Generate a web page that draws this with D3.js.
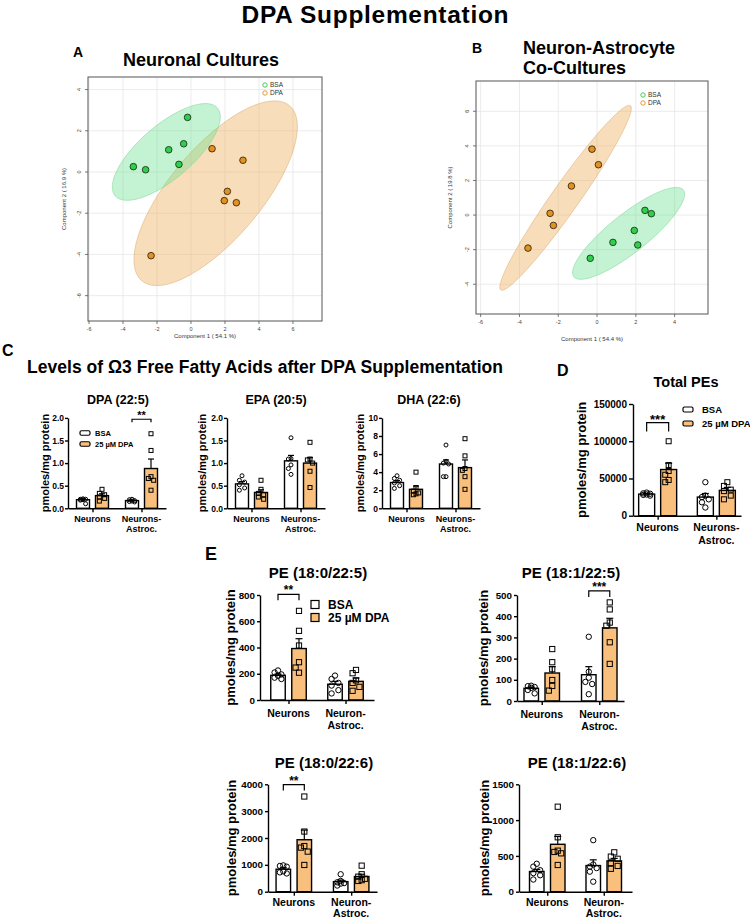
<!DOCTYPE html>
<html>
<head>
<meta charset="utf-8">
<script src="https://cdn.jsdelivr.net/npm/d3@7"></script>
<style>
  body { margin: 0; background: #fff; }
  svg { display: block; }
  text { font-family: "Liberation Sans", Arial, sans-serif; }
</style>
</head>
<body>
<div id="fig"></div>
<script>
// ---------- data ----------
// PCA scores [Component 1, Component 2]
var pcaA_bsa = [[-3.39, 0.26], [-2.67, 0.11], [-1.31, 1.08], [-0.43, 1.37], [-0.71, 0.37], [-0.20, 2.65]];
var pcaA_dpa = [[1.24, 1.13], [3.06, 0.57], [2.14, -0.94], [1.96, -1.39], [2.67, -1.49], [-2.35, -4.06]];
var pcaB_bsa = [[2.47, 0.27], [2.80, 0.08], [1.92, -0.89], [0.82, -1.58], [2.10, -1.73], [-0.35, -2.50]];
var pcaB_dpa = [[-0.26, 3.81], [0.07, 2.91], [-1.32, 1.68], [-2.42, 0.10], [-2.25, -0.60], [-3.56, -1.91]];
var pcaTicksA_x = [-6, -4, -2, 0, 2, 4, 6];
var pcaTicksA_y = [-6, -4, -2, 0, 2, 4];
var pcaTicksB_x = [-6, -4, -2, 0, 2, 4];
var pcaTicksB_y = [-4, -2, 0, 2, 4, 6];

var groupsC = ["Neurons", "Neurons-Astroc."];
var groupsE = ["Neurons", "Neuron-Astroc."];
var treatments = ["BSA", "25 µM DPA"];

// bar values: [group][treatment]  (treatment 0 = BSA, 1 = 25 µM DPA)
var dpaMean = [[0.19, 0.28], [0.17, 0.88]];
var dpaSem = [[0.02, 0.04], [0.01, 0.21]];
var dpaPts = [[[0.21, 0.20, 0.19, 0.18, 0.20, 0.10], [0.42, 0.33, 0.30, 0.25, 0.22, 0.16]],
              [[0.20, 0.19, 0.17, 0.16, 0.15, 0.14], [1.65, 1.28, 0.70, 0.66, 0.62, 0.40]]];
var dpaTicks = [0, 0.5, 1.0, 1.5, 2.0];

var epaMean = [[0.54, 0.35], [1.05, 1.00]];
var epaSem = [[0.05, 0.06], [0.12, 0.12]];
var epaPts = [[[0.72, 0.62, 0.58, 0.52, 0.45, 0.40], [0.62, 0.42, 0.33, 0.30, 0.25, 0.20]],
              [[1.56, 1.10, 1.09, 0.96, 0.88, 0.75], [1.46, 1.09, 1.07, 1.00, 0.82, 0.46]]];
var epaTicks = [0, 0.5, 1.0, 1.5, 2.0];

var dhaMean = [[2.85, 2.10], [4.90, 4.50]];
var dhaSem = [[0.22, 0.35], [0.45, 0.85]];
var dhaPts = [[[3.6, 3.3, 3.1, 2.8, 2.5, 2.2], [4.0, 2.3, 1.9, 1.7, 1.6, 1.5]],
              [[7.0, 5.2, 5.0, 4.9, 3.5, 3.5], [7.7, 5.8, 4.4, 4.2, 3.5, 2.1]]];
var dhaTicks = [0, 2, 4, 6, 8, 10];

var peTotMean = [[29000, 62000], [25000, 34000]];
var peTotSem = [[700, 8500], [4800, 4000]];
var peTotPts = [[[31000, 30000, 29500, 28500, 28000, 27000], [100000, 68000, 60000, 55000, 48000, 45000]],
                [[45000, 27000, 25000, 22000, 18000, 11000], [45000, 40000, 35000, 33000, 27000, 22000]]];
var peTotTicks = [0, 50000, 100000, 150000];

var pe1Mean = [[188, 392], [120, 142]];
var pe1Sem = [[10, 75], [22, 25]];
var pe1Pts = [[[225, 210, 195, 185, 170, 160], [679, 527, 415, 288, 247, 208]],
              [[186, 160, 130, 110, 75, 50], [229, 204, 150, 130, 100, 70]]];
var pe1Ticks = [0, 200, 400, 600, 800];

var pe2Mean = [[60, 132], [124, 345]];
var pe2Sem = [[5, 30], [38, 45]];
var pe2Pts = [[[72, 70, 66, 62, 52, 36], [245, 183, 150, 99, 71, 49]],
              [[303, 138, 110, 90, 80, 32], [465, 432, 370, 355, 277, 175]]];
var pe2Ticks = [0, 100, 200, 300, 400, 500];

var pe3Mean = [[838, 1935], [375, 565]];
var pe3Sem = [[55, 360], [60, 85]];
var pe3Pts = [[[980, 960, 930, 760, 720, 680], [3545, 2240, 1700, 1642, 1493, 996]],
              [[650, 400, 350, 320, 300, 230], [970, 650, 560, 480, 430, 400]]];
var pe3Ticks = [0, 1000, 2000, 3000, 4000];

var pe4Mean = [[282, 662], [365, 430]];
var pe4Sem = [[30, 110], [80, 35]];
var pe4Pts = [[[390, 350, 300, 260, 230, 170], [1187, 760, 573, 555, 536, 373]],
              [[720, 380, 350, 330, 280, 140], [550, 490, 460, 400, 360, 320]]];
var pe4Ticks = [0, 500, 1000, 1500];

// ---------- figure ----------
var svg = d3.select("#fig").append("svg").attr("width", 750).attr("height", 920);
var ORANGE = "#f8c07c";

function txt(x, y, s, size, opts) {
  opts = opts || {};
  var t = svg.append("text").attr("x", x).attr("y", y).text(s)
    .attr("font-size", size).attr("font-weight", opts.weight || "bold")
    .attr("fill", opts.fill || "#000")
    .attr("text-anchor", opts.anchor || "start");
  if (opts.len) t.attr("textLength", opts.len);
  return t;
}

txt(375, 23, "DPA Supplementation", 24.5, {anchor: "middle", len: 267});
txt(73, 57, "A", 14);
txt(201, 66, "Neuronal Cultures", 18, {anchor: "middle"});
txt(472, 53, "B", 14);
txt(523, 54, "Neuron-Astrocyte", 18);
txt(523, 74, "Co-Cultures", 18);
txt(2, 356, "C", 16);
txt(27, 373, "Levels of Ω3 Free Fatty Acids after DPA Supplementation", 17.5, {len: 476});
txt(557, 376, "D", 16);
txt(205, 560, "E", 18);

// ---------- PCA score plots ----------
function confEllipse(pts, sx, sy) {
  var n = pts.length;
  var mx = d3.mean(pts, function(d) { return d[0]; });
  var my = d3.mean(pts, function(d) { return d[1]; });
  var sxx = d3.sum(pts, function(d) { return (d[0] - mx) * (d[0] - mx); }) / (n - 1);
  var syy = d3.sum(pts, function(d) { return (d[1] - my) * (d[1] - my); }) / (n - 1);
  var sxy = d3.sum(pts, function(d) { return (d[0] - mx) * (d[1] - my); }) / (n - 1);
  var tr = sxx + syy, det = sxx * syy - sxy * sxy;
  var disc = Math.sqrt(Math.max(0, tr * tr / 4 - det));
  var l1 = tr / 2 + disc, l2 = tr / 2 - disc;
  var th = Math.atan2(l1 - sxx, sxy);
  var a = Math.sqrt(5.991 * l1), b = Math.sqrt(5.991 * Math.max(l2, 0));
  var ring = d3.range(0, 360, 3).map(function(t) {
    t = t * Math.PI / 180;
    var u = a * Math.cos(t), v = b * Math.sin(t);
    return [sx(mx + u * Math.cos(th) - v * Math.sin(th)), sy(my + u * Math.sin(th) + v * Math.cos(th))];
  });
  return d3.line().curve(d3.curveLinearClosed)(ring);
}

function drawPCA(p) {
  var g = svg.append("g");
  var x = d3.scaleLinear().domain(p.xdom).range([p.fx0, p.fx1]);
  var y = d3.scaleLinear().domain(p.ydom).range([p.fy1, p.fy0]);

  g.selectAll(".gx").data(p.xt).enter().append("line")
    .attr("x1", function(d) { return x(d); }).attr("x2", function(d) { return x(d); })
    .attr("y1", p.fy0).attr("y2", p.fy1).attr("stroke", "#e6e6e6").attr("stroke-width", 0.8);
  g.selectAll(".gy").data(p.yt).enter().append("line")
    .attr("y1", function(d) { return y(d); }).attr("y2", function(d) { return y(d); })
    .attr("x1", p.fx0).attr("x2", p.fx1).attr("stroke", "#e6e6e6").attr("stroke-width", 0.8);

  g.append("path").attr("d", confEllipse(p.dpa, x, y))
    .attr("fill", "#efb468").attr("fill-opacity", 0.45)
    .attr("stroke", "#d9a565").attr("stroke-opacity", 0.6).attr("stroke-width", 0.8);
  g.append("path").attr("d", confEllipse(p.bsa, x, y))
    .attr("fill", "#63df8c").attr("fill-opacity", 0.38)
    .attr("stroke", "#7fd69a").attr("stroke-opacity", 0.7).attr("stroke-width", 0.8);

  g.selectAll(".pd").data(p.dpa).enter().append("circle")
    .attr("cx", function(d) { return x(d[0]); }).attr("cy", function(d) { return y(d[1]); })
    .attr("r", 3.3).attr("fill", "#e3921f").attr("stroke", "#3a2a10").attr("stroke-width", 0.9);
  g.selectAll(".pb").data(p.bsa).enter().append("circle")
    .attr("cx", function(d) { return x(d[0]); }).attr("cy", function(d) { return y(d[1]); })
    .attr("r", 3.3).attr("fill", "#2fcf4a").attr("stroke", "#1d3a20").attr("stroke-width", 0.9);

  g.append("rect").attr("x", p.fx0).attr("y", p.fy0)
    .attr("width", p.fx1 - p.fx0).attr("height", p.fy1 - p.fy0)
    .attr("fill", "none").attr("stroke", "#555").attr("stroke-width", 1);

  // axes ticks
  g.selectAll(".tx").data(p.xt).enter().append("line")
    .attr("x1", function(d) { return x(d); }).attr("x2", function(d) { return x(d); })
    .attr("y1", p.fy1).attr("y2", p.fy1 + 3).attr("stroke", "#555").attr("stroke-width", 0.8);
  g.selectAll(".txl").data(p.xt).enter().append("text")
    .attr("x", function(d) { return x(d); }).attr("y", p.fy1 + 10)
    .attr("text-anchor", "middle").attr("font-size", 5.5).attr("fill", "#444")
    .text(function(d) { return d; });
  g.selectAll(".ty").data(p.yt).enter().append("line")
    .attr("y1", function(d) { return y(d); }).attr("y2", function(d) { return y(d); })
    .attr("x1", p.fx0).attr("x2", p.fx0 - 3).attr("stroke", "#555").attr("stroke-width", 0.8);
  g.selectAll(".tyl").data(p.yt).enter().append("text")
    .attr("transform", function(d) { return "translate(" + (p.fx0 - 7) + "," + y(d) + ") rotate(-90)"; })
    .attr("text-anchor", "middle").attr("font-size", 5.5).attr("fill", "#444")
    .text(function(d) { return d; });

  g.append("text").attr("x", (p.fx0 + p.fx1) / 2).attr("y", p.xlabY)
    .attr("text-anchor", "middle").attr("font-size", 6).attr("fill", "#333").text(p.xlab);
  g.append("text")
    .attr("transform", "translate(" + p.ylabX + "," + ((p.fy0 + p.fy1) / 2) + ") rotate(-90)")
    .attr("text-anchor", "middle").attr("font-size", 6).attr("fill", "#333").text(p.ylab);

  [["BSA", "#3fcf5a"], ["DPA", "#e39a35"]].forEach(function(l, i) {
    g.append("circle").attr("cx", p.legX).attr("cy", p.legY + i * 8).attr("r", 2.2)
      .attr("fill", "none").attr("stroke", l[1]).attr("stroke-width", 1);
    g.append("text").attr("x", p.legX + 5).attr("y", p.legY + i * 8 + 2.3)
      .attr("font-size", 6.5).attr("fill", "#333").text(l[0]);
  });
}

drawPCA({bsa: pcaA_bsa, dpa: pcaA_dpa, xt: pcaTicksA_x, yt: pcaTicksA_y,
  xdom: [-6.06, 7.71], ydom: [-7.23, 4.61], fx0: 88, fx1: 322, fy0: 77, fy1: 321,
  xlab: "Component 1 ( 54.1 %)", ylab: "Component 2 ( 16.9 %)", xlabY: 338, ylabX: 66,
  legX: 265, legY: 85});
drawPCA({bsa: pcaB_bsa, dpa: pcaB_dpa, xt: pcaTicksB_x, yt: pcaTicksB_y,
  xdom: [-6.24, 5.72], ydom: [-5.72, 7.75], fx0: 476, fx1: 708, fy0: 81, fy1: 314,
  xlab: "Component 1 ( 54.4 %)", ylab: "Component 2 ( 19.8 %)", xlabY: 341, ylabX: 452,
  legX: 643, legY: 95});

// ---------- bar charts ----------
// spread overlapping points sideways within the bar
function swarm(vals, y, r, maxOff) {
  var placed = [], out = new Array(vals.length);
  var order = vals.map(function(v, i) { return i; }).sort(function(a, b) { return vals[b] - vals[a]; });
  var cands = [0];
  for (var k = 1; k * r * 1.1 <= maxOff; k++) { cands.push(-k * r * 1.1, k * r * 1.1); }
  order.forEach(function(i) {
    var py = y(vals[i]);
    var best = 0, bestD = -1;
    for (var j = 0; j < cands.length; j++) {
      var c = cands[j];
      var dmin = placed.length ? d3.min(placed, function(p) { return Math.hypot(p[0] - c, p[1] - py); }) : 99;
      if (dmin >= 2 * r * 0.95) { best = c; bestD = dmin; break; }
      if (dmin > bestD) { bestD = dmin; best = c; }
    }
    placed.push([best, py]);
    out[i] = best;
  });
  return out;
}

function drawBarChart(c, st) {
  var g = svg.append("g");
  var y = d3.scaleLinear().domain([0, d3.max(c.ticks)]).range([c.yb, c.yt]);
  var x = d3.scalePoint().domain(c.cats).range([c.x0, c.x1]).padding(c.pad);
  var cx = function(gi, ti) { return x(c.cats[gi]) + (ti === 0 ? -st.off : st.off); };
  var catDy = c.catDy || st.catDy;

  var rows = [];
  c.mean.forEach(function(m, gi) {
    m.forEach(function(v, ti) { rows.push({gi: gi, ti: ti, v: v, sem: c.sem[gi][ti], pts: c.pts[gi][ti]}); });
  });

  // error bars (upper)
  rows.forEach(function(d) {
    var xc = cx(d.gi, d.ti);
    g.append("line").attr("x1", xc).attr("x2", xc).attr("y1", y(d.v)).attr("y2", y(d.v + d.sem))
      .attr("stroke", "#000").attr("stroke-width", 1.2);
    g.append("line").attr("x1", xc - st.cap).attr("x2", xc + st.cap)
      .attr("y1", y(d.v + d.sem)).attr("y2", y(d.v + d.sem))
      .attr("stroke", "#000").attr("stroke-width", 1.2);
  });

  g.selectAll(".bar").data(rows).enter().append("rect")
    .attr("x", function(d) { return cx(d.gi, d.ti) - st.bw / 2; })
    .attr("y", function(d) { return y(d.v); })
    .attr("width", st.bw)
    .attr("height", function(d) { return c.yb - y(d.v); })
    .attr("fill", function(d) { return d.ti === 0 ? "#fff" : ORANGE; })
    .attr("stroke", "#000").attr("stroke-width", 1.4);

  // individual points
  rows.forEach(function(d) {
    var xc = cx(d.gi, d.ti);
    var offs = swarm(d.pts, y, st.r + 0.4, st.bw / 2 - 1.5);
    d.pts.forEach(function(v, i) {
      if (d.ti === 0) {
        g.append("circle").attr("cx", xc + offs[i]).attr("cy", y(v)).attr("r", st.r)
          .attr("fill", "none").attr("stroke", "#000").attr("stroke-width", 1);
      } else {
        g.append("rect").attr("x", xc + offs[i] - st.sq / 2).attr("y", y(v) - st.sq / 2)
          .attr("width", st.sq).attr("height", st.sq)
          .attr("fill", "none").attr("stroke", "#000").attr("stroke-width", 1);
      }
    });
  });

  // axes
  var ya = g.append("g").attr("transform", "translate(" + c.x0 + ",0)")
    .call(d3.axisLeft(y).tickValues(c.ticks).tickFormat(d3.format(c.fmt))
      .tickSize(st.tickLen).tickSizeOuter(0).tickPadding(st.tickPad));
  var xa = g.append("g").attr("transform", "translate(0," + c.yb + ")")
    .call(d3.axisBottom(x).tickSize(4).tickSizeOuter(0).tickFormat(""));
  [ya, xa].forEach(function(a) {
    a.selectAll("path, line").attr("stroke", "#000").attr("stroke-width", 1.4);
    a.selectAll("text").attr("font-size", st.tickFs).attr("font-weight", "bold")
      .attr("font-family", "'Liberation Sans', Arial, sans-serif").attr("fill", "#000");
  });

  c.cats.forEach(function(cat) {
    var parts = cat.indexOf("-") > 0 ? [cat.split("-")[0] + "-", cat.split("-")[1]] : [cat];
    parts.forEach(function(s, i) {
      g.append("text").attr("x", x(cat)).attr("y", c.yb + catDy[i])
        .attr("text-anchor", "middle").attr("font-size", st.catFs).attr("font-weight", "bold").text(s);
    });
  });

  g.append("text")
    .attr("transform", "translate(" + c.ylx + "," + ((c.yb + c.yt) / 2) + ") rotate(-90)")
    .attr("text-anchor", "middle").attr("dominant-baseline", "central")
    .attr("font-size", st.labFs).attr("font-weight", "bold").text("pmoles/mg protein");

  g.append("text").attr("x", c.tx).attr("y", c.ty).attr("text-anchor", "middle")
    .attr("font-size", st.titleFs).attr("font-weight", "bold").text(c.title);

  if (c.sig) {
    var gi = c.sig.group, yy = y(c.sig.value);
    var xa0 = cx(gi, 0), xa1 = cx(gi, 1);
    g.append("path").attr("d", "M" + xa0 + "," + (yy + st.sigTick) + "V" + yy + "H" + xa1 + "V" + (yy + st.sigTick))
      .attr("fill", "none").attr("stroke", "#000").attr("stroke-width", 1.2);
    g.append("text").attr("x", (xa0 + xa1) / 2).attr("y", yy + st.starDy).attr("text-anchor", "middle")
      .attr("font-size", st.starFs).attr("font-weight", "bold").text(c.sig.label);
  }

  if (c.leg) {
    treatments.forEach(function(t, i) {
      g.append("rect").attr("x", c.leg[0]).attr("y", c.leg[1] + i * st.legGap - st.legH / 2)
        .attr("width", st.legW).attr("height", st.legH).attr("rx", st.legRx)
        .attr("fill", i === 0 ? "#fff" : ORANGE).attr("stroke", "#000").attr("stroke-width", 1.2);
      g.append("text").attr("x", c.leg[0] + st.legW + st.legPad).attr("y", c.leg[1] + i * st.legGap + st.legFs * 0.36)
        .attr("font-size", st.legFs).attr("font-weight", "bold").text(t);
    });
  }
}

var styleC = {bw: 13, off: 9.5, cap: 3, r: 2, sq: 4, tickFs: 8.5, tickLen: 3, tickPad: 1, catFs: 9, catDy: [13.5, 24],
  labFs: 11, titleFs: 12.5, sigTick: 3, starDy: 0, starFs: 11,
  legW: 10, legH: 4.5, legRx: 1.5, legGap: 11, legPad: 5, legFs: 7.5};
var styleD = {bw: 16, off: 11, cap: 3.5, r: 2.7, sq: 5, tickFs: 10, tickLen: 4, tickPad: 2, catFs: 10.5, catDy: [15.5, 28.5],
  labFs: 13, titleFs: 14.5, sigTick: 9, starDy: 1, starFs: 13,
  legW: 10, legH: 5, legRx: 1.5, legGap: 14, legPad: 9, legFs: 9.5};
var styleE = {bw: 14.5, off: 10.5, cap: 3.5, r: 2.7, sq: 5.2, tickFs: 9.8, tickLen: 3, tickPad: 2, catFs: 10.5, catDy: [16.5, 28.5],
  labFs: 13, titleFs: 15, sigTick: 6, starDy: 0, starFs: 12,
  legW: 8, legH: 8, legRx: 0, legGap: 13, legPad: 9, legFs: 12};

drawBarChart({title: "DPA (22:5)", tx: 118, ty: 404, cats: groupsC, mean: dpaMean, sem: dpaSem, pts: dpaPts,
  ticks: dpaTicks, fmt: ".1f", x0: 68, x1: 166, pad: 0.5, yb: 508.3, yt: 417.9, ylx: 45,
  sig: {group: 1, value: 1.97, label: "**"}, leg: [80, 433]}, styleC);
drawBarChart({title: "EPA (20:5)", tx: 276, ty: 404, cats: groupsC, mean: epaMean, sem: epaSem, pts: epaPts,
  ticks: epaTicks, fmt: ".1f", x0: 227, x1: 325, pad: 0.5, yb: 508.3, yt: 417.9, ylx: 202}, styleC);
drawBarChart({title: "DHA (22:6)", tx: 429, ty: 404, cats: groupsC, mean: dhaMean, sem: dhaSem, pts: dhaPts,
  ticks: dhaTicks, fmt: "d", x0: 382, x1: 480, pad: 0.5, yb: 508.3, yt: 417.9, ylx: 360}, styleC);

drawBarChart({title: "Total PEs", tx: 686, ty: 387, cats: groupsC, mean: peTotMean, sem: peTotSem, pts: peTotPts,
  ticks: peTotTicks, fmt: "d", x0: 633, x1: 741, pad: 0.42, yb: 515.7, yt: 404, ylx: 581,
  sig: {group: 0, value: 125000, label: "***"}, leg: [683, 409.5]}, styleD);

drawBarChart({title: "PE (18:0/22:5)", tx: 318, ty: 578, cats: groupsE, mean: pe1Mean, sem: pe1Sem, pts: pe1Pts,
  ticks: pe1Ticks, fmt: "d", x0: 260, x1: 374, pad: 0.5, yb: 700, yt: 595, ylx: 230,
  sig: {group: 0, value: 805, label: "**"}, leg: [311, 604.5]}, styleE);
drawBarChart({title: "PE (18:1/22:5)", tx: 571, ty: 578, cats: groupsE, mean: pe2Mean, sem: pe2Sem, pts: pe2Pts,
  ticks: pe2Ticks, fmt: "d", x0: 517, x1: 624, pad: 0.43, yb: 701, yt: 595, ylx: 483,
  sig: {group: 1, value: 519, label: "***"}}, styleE);
drawBarChart({title: "PE (18:0/22:6)", tx: 324, ty: 768, cats: groupsE, mean: pe3Mean, sem: pe3Sem, pts: pe3Pts,
  ticks: pe3Ticks, fmt: "d", x0: 268, x1: 377, pad: 0.45, yb: 891.7, yt: 784.3, ylx: 231,
  sig: {group: 0, value: 3990, label: "**"}, catDy: [14, 25]}, styleE);
drawBarChart({title: "PE (18:1/22:6)", tx: 577, ty: 768, cats: groupsE, mean: pe4Mean, sem: pe4Sem, pts: pe4Pts,
  ticks: pe4Ticks, fmt: "d", x0: 519, x1: 632, pad: 0.5, yb: 891.7, yt: 784.3, ylx: 484, catDy: [14, 25]}, styleE);
</script>
</body>
</html>
